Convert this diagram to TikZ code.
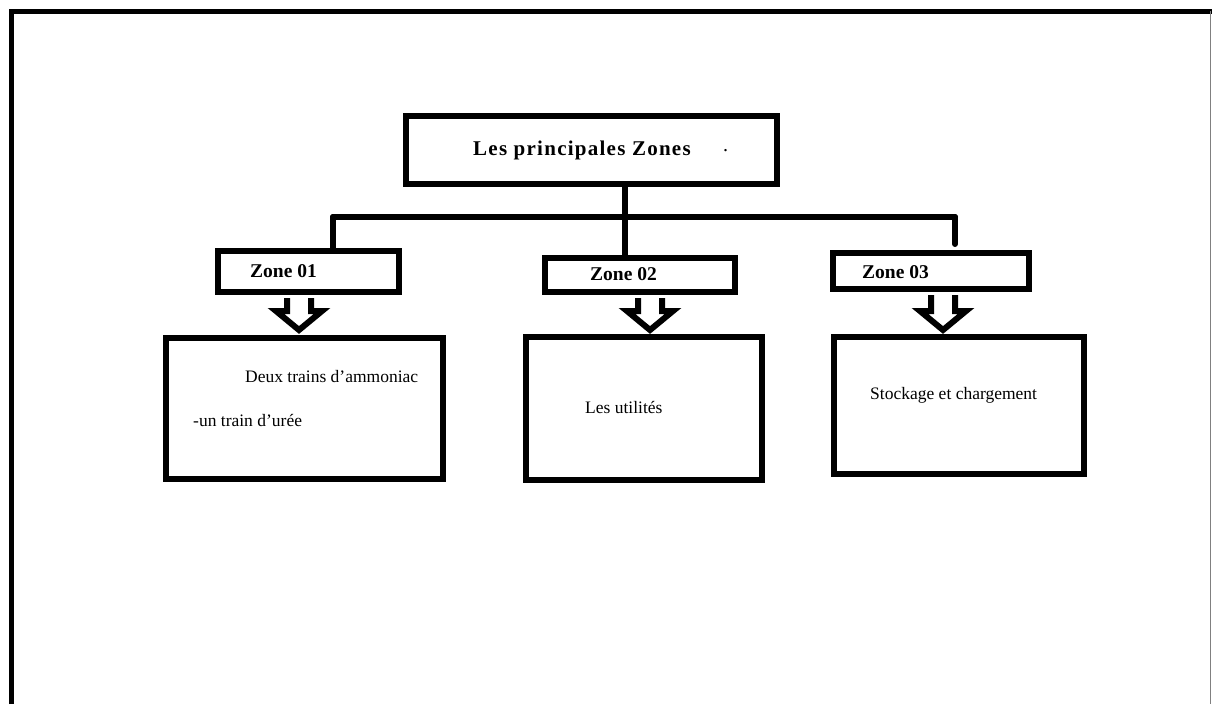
\documentclass[tikz,border=0pt]{standalone}
\usepackage{fontspec}
\setmainfont{Liberation Serif}
\usetikzlibrary{calc}
\begin{document}
\begin{tikzpicture}[x=1pt,y=-1pt,
  frame/.style={line width=5pt},
  box/.style={draw, line width=6pt, fill=white, inner sep=0pt},
  bus/.style={line width=6pt, line cap=round},
  hollow/.style={draw, line width=6pt, fill=white, line join=miter},
  lbl/.style={anchor=base west, inner sep=0pt, font=\fontsize{17.5}{20}\selectfont},
  zlbl/.style={anchor=base west, inner sep=0pt, font=\fontsize{19.5}{22}\selectfont\bfseries},
  tlbl/.style={anchor=base west, inner sep=0pt, font=\fontsize{21}{24}\selectfont\bfseries\addfontfeatures{LetterSpace=6}},
]
\useasboundingbox (0,0) rectangle (1212,704);
% page frame
\coordinate (fbl) at (11,704);
\coordinate (ftl) at (11,11);
\coordinate (ftr) at (1212,11);
\coordinate (rtop) at (1210.5,11);
\coordinate (rbot) at (1210.5,704);
\draw[frame] (fbl) -- (ftl) -- (ftr);
\draw[line width=1.5pt, gray] (rtop) -- (rbot);
% boxes
\node[box, minimum width=371pt, minimum height=68pt] (title) at (591.5,150) {};
\node[box, minimum width=181pt, minimum height=41pt] (z1) at (308.5,271.5) {};
\node[box, minimum width=190pt, minimum height=34pt] (z2) at (640,275) {};
\node[box, minimum width=196pt, minimum height=36pt] (z3) at (931,271) {};
\node[box, minimum width=277pt, minimum height=141pt] (p1) at (304.5,408.5) {};
\node[box, minimum width=236pt, minimum height=143pt] (p2) at (644,408.5) {};
\node[box, minimum width=250pt, minimum height=137pt] (p3) at (959,405.5) {};
% texts
\node[tlbl] (tt) at (473,155) {Les principales Zones};
\node[anchor=base west, inner sep=0pt, font=\fontsize{20}{22}\selectfont] (tdot) at (723,151) {.};
\node[zlbl] (z1t) at (250,277) {Zone 01};
\node[zlbl] (z2t) at (590,280) {Zone 02};
\node[zlbl] (z3t) at (862,278) {Zone 03};
\node[lbl] (p1a) at (245,382) {Deux trains d’ammoniac};
\node[lbl] (p1b) at (193,426) {-un train d’urée};
\node[lbl] (p2t) at (585,413) {Les utilités};
\node[lbl] (p3t) at (870,399) {Stockage et chargement};
% bus connectors
\coordinate (j) at (625,217);
\coordinate (b1) at (333,217);
\coordinate (b3) at (955,217);
\draw[bus] (j |- title.south) -- (j |- z2.north);
\draw[bus] (b1) -- (b3);
\draw[bus] (b1) -- (b1 |- z1.north);
\draw[bus] (b3) -- ($(b3 |- z3.north)+(0,-6)$);
% hollow arrows
\coordinate (a1) at (299,330);
\coordinate (a2) at (650,330);
\coordinate (a3) at (943,330);
\foreach \z/\a in {z1/a1, z2/a2, z3/a3}{
  \path let \p1=(\a), \p2=(\z.south) in
    [hollow] (\x1-12pt,\y2-3pt) -- (\x1-12pt,\y1+19pt) -- (\x1-23pt,\y1+19pt)
    -- (\a) -- (\x1+23pt,\y1+19pt) -- (\x1+12pt,\y1+19pt) -- (\x1+12pt,\y2-3pt);
}
\end{tikzpicture}
\end{document}
